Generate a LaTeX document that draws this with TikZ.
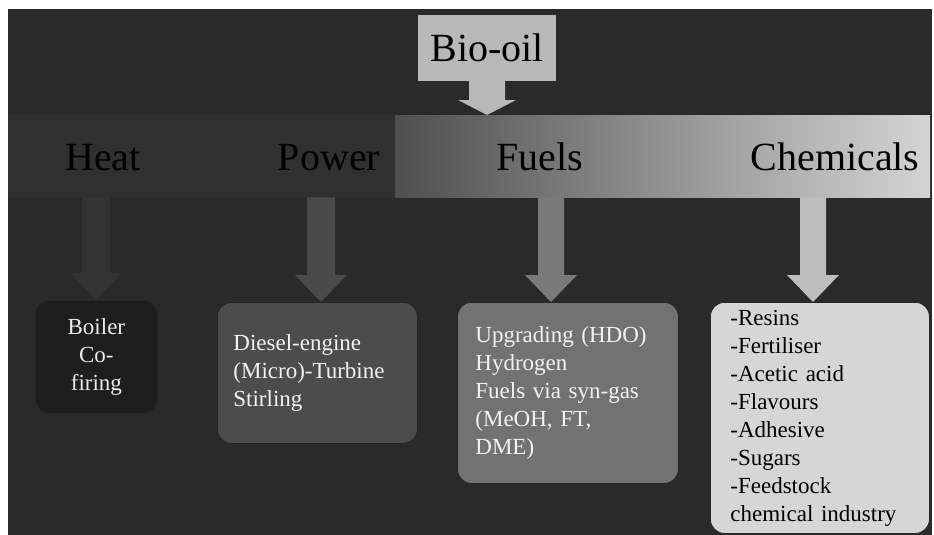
\documentclass[tikz,border=0pt]{standalone}
\usepackage{fontspec}
\setmainfont{Liberation Serif}
\usetikzlibrary{calc}
\definecolor{bg}{HTML}{2A2A2A}
\definecolor{bandl}{HTML}{303030}
\definecolor{bandlight}{HTML}{4F4F4F}
\definecolor{bandright}{HTML}{D4D4D4}
\definecolor{biofill}{HTML}{B8B8B8}
\definecolor{heatc}{HTML}{333333}
\definecolor{powerc}{HTML}{4A4A4A}
\definecolor{fuelc}{HTML}{7A7A7A}
\definecolor{chemc}{HTML}{BEBEBE}
\definecolor{boilfill}{HTML}{1E1E1E}
\definecolor{dieselfill}{HTML}{4C4C4C}
\definecolor{fuelfill}{HTML}{727272}
\definecolor{chemfill}{HTML}{D6D6D6}
% block arrow: colour, start, end, half shaft, half head, head length
\newcommand\blockarr[6]{%
  \fill[#1] let \p1=(#2), \p2=(#3) in
    (\x2-#4,\y1) -- (\x2-#4,\y2+#6) -- (\x2-#5,\y2+#6) -- (\x2,\y2)
    -- (\x2+#5,\y2+#6) -- (\x2+#4,\y2+#6) -- (\x2+#4,\y1) -- cycle;}
\begin{document}
\begin{tikzpicture}[x=1pt,y=-1pt,
  boxstyle/.style={draw=black!85, line width=0.8pt, rounded corners=14pt,
    inner ysep=0pt, anchor=north west,
    font=\fontsize{23}{28}\selectfont},
  headtext/.style={font=\fontsize{40}{44}\selectfont, text=black,
    anchor=base, inner sep=0pt}]
\useasboundingbox (0,0) rectangle (934,535);
\fill[bg] (8,9) rectangle (932,535);
% band
\node[fill=bandl, minimum width=922pt, minimum height=82pt, anchor=north west,
  inner sep=0pt] (band) at (8,115) {};
\shade[left color=bandlight, right color=bandright] (395,115) rectangle (930,197);
% bio-oil
\node[fill=biofill, minimum width=138pt, minimum height=66pt, inner sep=0pt,
  font=\fontsize{40}{44}\selectfont] (bio) at (487,48) {Bio-oil};
\blockarr{biofill}{bio.south}{bio.south |- band.north}{18pt}{29pt}{15pt}
% headings
\node[headtext] (heat) at (103,170) {Heat};
\node[headtext] (power) at (329,170) {Power};
\node[headtext] (fuels) at (540,170) {Fuels};
\node[headtext] (chem) at (835,170) {Chemicals};
% boxes
\node[boxstyle, fill=boilfill, text=white!92!black, minimum width=122pt,
  minimum height=113pt, inner xsep=0pt, text width=122pt, align=center]
  (boiler) at (35,300) {Boiler\\Co-\\firing};
\node[boxstyle, fill=dieselfill, text=white!95!black, minimum height=141pt,
  inner xsep=16pt, text width=168pt, align=left]
  (diesel) at (217,302) {Diesel-engine\\(Micro)-Turbine\\Stirling};
\node[boxstyle, fill=fuelfill, text=white!95!black, minimum height=181pt,
  inner xsep=18pt, text width=185pt, align=left]
  (fuelbox) at (457,302) {Upgrading (HDO)\\Hydrogen\\Fuels via syn-gas\\(MeOH, FT,\\DME)};
\node[boxstyle, fill=chemfill, text=black, minimum height=231pt,
  inner xsep=20pt, text width=179pt, align=left]
  (chembox) at (710,302) {-Resins\\-Fertiliser\\-Acetic acid\\-Flavours\\-Adhesive\\-Sugars\\-Feedstock\\chemical industry};
% arrow columns
\coordinate (xH) at (96,0);
\coordinate (xP) at (321,0);
\coordinate (xF) at (551,0);
\coordinate (xC) at (813,0);
\blockarr{heatc}{xH |- band.south}{xH |- boiler.north}{14pt}{26pt}{27pt}
\blockarr{powerc}{xP |- band.south}{xP |- diesel.north}{14pt}{26pt}{27pt}
\blockarr{fuelc}{xF |- band.south}{xF |- fuelbox.north}{13pt}{26pt}{27pt}
\blockarr{chemc}{xC |- band.south}{xC |- chembox.north}{13pt}{26pt}{27pt}
\end{tikzpicture}
\end{document}
